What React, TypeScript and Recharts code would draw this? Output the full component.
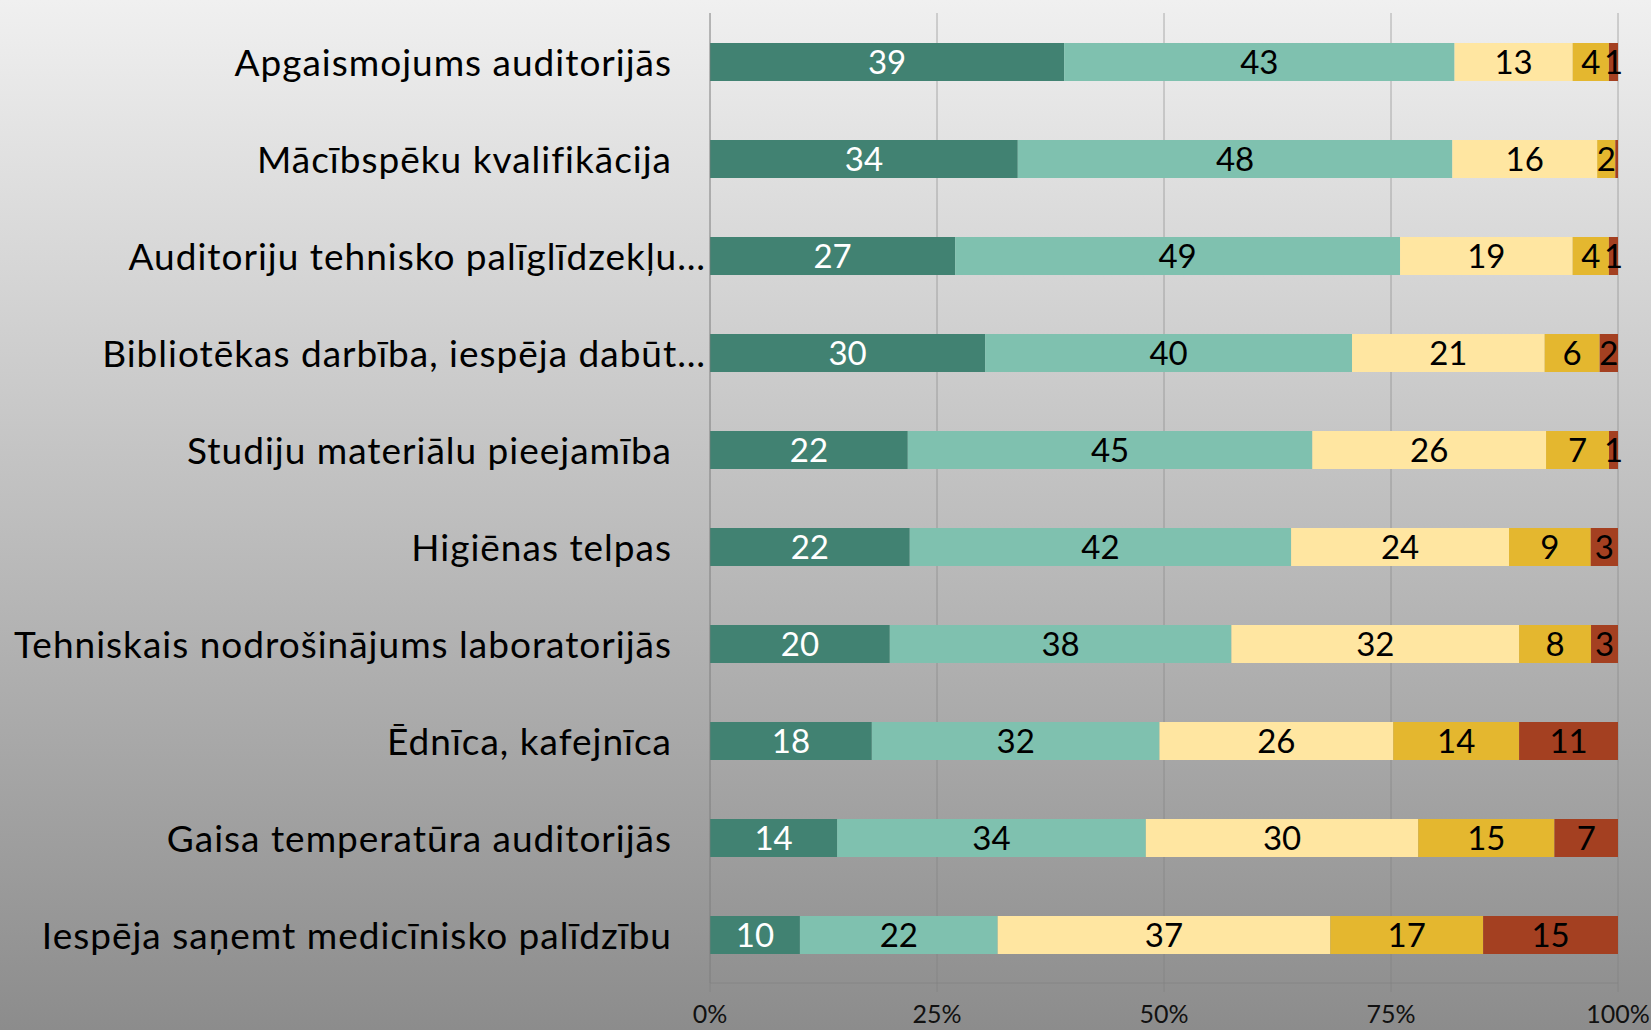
import { Bar, BarChart, CartesianGrid, LabelList, XAxis, YAxis } from "recharts"

const categories = [
  "Apgaismojums auditorijās",
  "Mācībspēku kvalifikācija",
  "Auditoriju tehnisko palīglīdzekļu…",
  "Bibliotēkas darbība, iespēja dabūt…",
  "Studiju materiālu pieejamība",
  "Higiēnas telpas",
  "Tehniskais nodrošinājums laboratorijās",
  "Ēdnīca, kafejnīca",
  "Gaisa temperatūra auditorijās",
  "Iespēja saņemt medicīnisko palīdzību",
]

// five answer levels, best to worst (percent of respondents)
const level1 = [39, 34, 27, 30, 22, 22, 20, 18, 14, 10]
const level2 = [43, 48, 49, 40, 45, 42, 38, 32, 34, 22]
const level3 = [13, 16, 19, 21, 26, 24, 32, 26, 30, 37]
const level4 = [4, 2, 4, 6, 7, 9, 8, 14, 15, 17]
const level5 = [1, 0.3, 1, 2, 1, 3, 3, 11, 7, 15]

const xTicks = [0, 0.25, 0.5, 0.75, 1]
const edgeTicks = [0, 1, 2, 3, 4, 5, 6, 7, 8, 9, 10]

const series = [
  { key: "l1", values: level1, color: "#418272", text: "#ffffff" },
  { key: "l2", values: level2, color: "#7fc1af", text: "#000000" },
  { key: "l3", values: level3, color: "#ffe6a1", text: "#000000" },
  { key: "l4", values: level4, color: "#e4b72f", text: "#000000" },
  { key: "l5", values: level5, color: "#a44021", text: "#000000" },
]

const data = categories.map((name, i) => {
  const row: Record<string, string | number> = { name }
  series.forEach((s) => (row[s.key] = s.values[i]))
  return row
})

const FONT = "Lato, 'Noto Sans', sans-serif"
const GRID = "#7f7f7f"

const CategoryTick = (props: any) => {
  const { x, y, payload } = props
  const label: string = payload.value
  // the truncated labels sit flush against the axis, the others keep a trailing gap
  const dx = label.endsWith("…") ? 4 : -30
  return (
    <text
      x={x + dx}
      y={y}
      textAnchor="end"
      dominantBaseline="central"
      fontSize={37}
      letterSpacing={1}
      fontFamily={FONT}
      fill="#000"
    >
      {label}
    </text>
  )
}

export default function App() {
  return (
    <div
      style={{
        position: "fixed",
        left: 0,
        top: 0,
        width: 1651,
        height: 1030,
        background: "linear-gradient(to bottom, #f0f0f0, #8c8c8c)",
      }}
    >
      <BarChart
        width={1651}
        height={1030}
        data={data}
        layout="vertical"
        stackOffset="expand"
        margin={{ top: 13, right: 33, bottom: 0, left: 0 }}
      >
        <CartesianGrid horizontal={false} stroke={GRID} strokeOpacity={0.6} />
        <XAxis
          type="number"
          domain={[0, 1]}
          ticks={xTicks}
          tickFormatter={(v) => `${Math.round(v * 100)}%`}
          height={47}
          tickSize={9}
          tickMargin={13}
          axisLine={{ stroke: GRID, strokeOpacity: 0.6 }}
          tickLine={{ stroke: GRID, strokeOpacity: 0.6 }}
          tick={{ fontSize: 25, fontFamily: FONT, fill: "#111" }}
          interval={0}
        />
        <YAxis
          yAxisId="edges"
          type="number"
          domain={[0, 10]}
          ticks={edgeTicks}
          width={0}
          tick={false}
          tickSize={13}
          axisLine={false}
          tickLine={{ stroke: GRID, strokeOpacity: 0.6 }}
        />
        <YAxis
          yAxisId="cat"
          type="category"
          dataKey="name"
          width={710}
          tickLine={false}
          axisLine={{ stroke: GRID, strokeOpacity: 0.6 }}
          tick={<CategoryTick />}
          interval={0}
        />
        {series.map((s) => (
          <Bar key={s.key} dataKey={s.key} yAxisId="cat" stackId="a" fill={s.color} barSize={38} isAnimationActive={false}>
            <LabelList
              dataKey={s.key}
              position="center"
              fill={s.text}
              fontSize={33}
              fontFamily={FONT}
              formatter={(v: any) => (v >= 0.5 ? v : "")}
            />
          </Bar>
        ))}
      </BarChart>
    </div>
  )
}
